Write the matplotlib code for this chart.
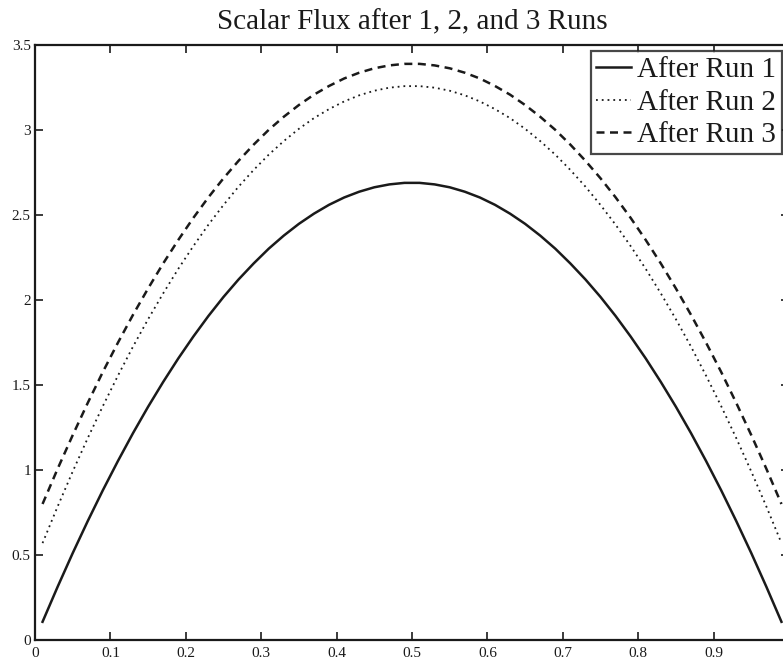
import matplotlib
matplotlib.use("Agg")
import matplotlib.pyplot as plt

x = [0.01, 0.03, 0.05, 0.07, 0.09, 0.11, 0.13, 0.15, 0.17, 0.19,
     0.21, 0.23, 0.25, 0.27, 0.29, 0.31, 0.33, 0.35, 0.37, 0.39,
     0.41, 0.43, 0.45, 0.47, 0.49, 0.51, 0.53, 0.55, 0.57, 0.59,
     0.61, 0.63, 0.65, 0.67, 0.69, 0.71, 0.73, 0.75, 0.77, 0.79,
     0.81, 0.83, 0.85, 0.87, 0.89, 0.91, 0.93, 0.95, 0.97, 0.99]
run1 = [0.107, 0.313, 0.511, 0.700, 0.881, 1.053, 1.217, 1.372, 1.518, 1.656,
        1.785, 1.906, 2.018, 2.121, 2.215, 2.302, 2.379, 2.448, 2.508, 2.560,
        2.603, 2.637, 2.663, 2.680, 2.689, 2.689, 2.680, 2.663, 2.637, 2.603,
        2.560, 2.508, 2.448, 2.379, 2.302, 2.215, 2.121, 2.018, 1.906, 1.785,
        1.656, 1.518, 1.372, 1.217, 1.053, 0.881, 0.700, 0.511, 0.313, 0.107]
run2 = [0.570, 0.785, 0.991, 1.188, 1.376, 1.555, 1.726, 1.887, 2.039, 2.183,
        2.317, 2.443, 2.559, 2.667, 2.765, 2.855, 2.935, 3.007, 3.070, 3.123,
        3.168, 3.204, 3.231, 3.249, 3.258, 3.258, 3.249, 3.231, 3.204, 3.168,
        3.123, 3.070, 3.007, 2.935, 2.855, 2.765, 2.667, 2.559, 2.443, 2.317,
        2.183, 2.039, 1.887, 1.726, 1.555, 1.376, 1.188, 0.991, 0.785, 0.570]
run3 = [0.800, 1.007, 1.205, 1.395, 1.577, 1.749, 1.913, 2.068, 2.215, 2.353,
        2.483, 2.604, 2.716, 2.819, 2.914, 3.001, 3.078, 3.147, 3.208, 3.259,
        3.303, 3.337, 3.363, 3.380, 3.389, 3.389, 3.380, 3.363, 3.337, 3.303,
        3.259, 3.208, 3.147, 3.078, 3.001, 2.914, 2.819, 2.716, 2.604, 2.483,
        2.353, 2.215, 2.068, 1.913, 1.749, 1.577, 1.395, 1.205, 1.007, 0.800]
labels = ["After Run 1", "After Run 2", "After Run 3"]
title = "Scalar Flux after 1, 2, and 3 Runs"
xticks = [0, 0.1, 0.2, 0.3, 0.4, 0.5, 0.6, 0.7, 0.8, 0.9, 1.0]
xticklabels = ["0", "0.1", "0.2", "0.3", "0.4", "0.5", "0.6", "0.7", "0.8", "0.9", ""]
yticks = [0, 0.5, 1, 1.5, 2, 2.5, 3, 3.5]
yticklabels = ["0", "0.5", "1", "1.5", "2", "2.5", "3", "3.5"]

plt.rcParams['font.family'] = ['Liberation Serif', 'DejaVu Serif']

W, H = 783, 662
fig = plt.figure(figsize=(W / 100, H / 100), dpi=100)
left, right, top, bottom = 35, 789, 45, 640
ax = fig.add_axes([left / W, 1 - bottom / H, (right - left) / W, (bottom - top) / H])

c = "#1a1a1a"
ax.plot(x, run1, color=c, lw=1.8, linestyle='-', label=labels[0])
ax.plot(x, run2, color=c, lw=1.3, linestyle=(0, (1, 2.2)), label=labels[1])
ax.plot(x, run3, color=c, lw=1.8, linestyle=(0, (3.2, 2.2)), label=labels[2])

ax.set_xlim(0, 1)
ax.set_ylim(0, 3.5)
ax.set_xticks(xticks)
ax.set_xticklabels(xticklabels)
ax.set_yticks(yticks)
ax.set_yticklabels(yticklabels)
ax.tick_params(direction='in', length=6, width=1.2, top=True, right=True,
               labelsize=11, colors=c, pad=3)
ax.tick_params(axis='x', pad=5)
for s in ax.spines.values():
    s.set_linewidth(1.6)
    s.set_color(c)

fig.text((left + right) / 2 / W, 1 - 29 / H, title, ha='center', va='baseline',
         fontsize=21, color=c)

leg = ax.legend(loc='upper right', bbox_to_anchor=(782 / W, 1 - 51 / H),
                bbox_transform=fig.transFigure, borderaxespad=0, fontsize=21,
                frameon=True, fancybox=False, handlelength=1.2,
                handletextpad=0.2, labelspacing=0.21, borderpad=0.2)
leg.get_frame().set_edgecolor(c)
leg.get_frame().set_linewidth(1.6)
for t in leg.get_texts():
    t.set_color(c)

fig.savefig("out.png", dpi=100)
